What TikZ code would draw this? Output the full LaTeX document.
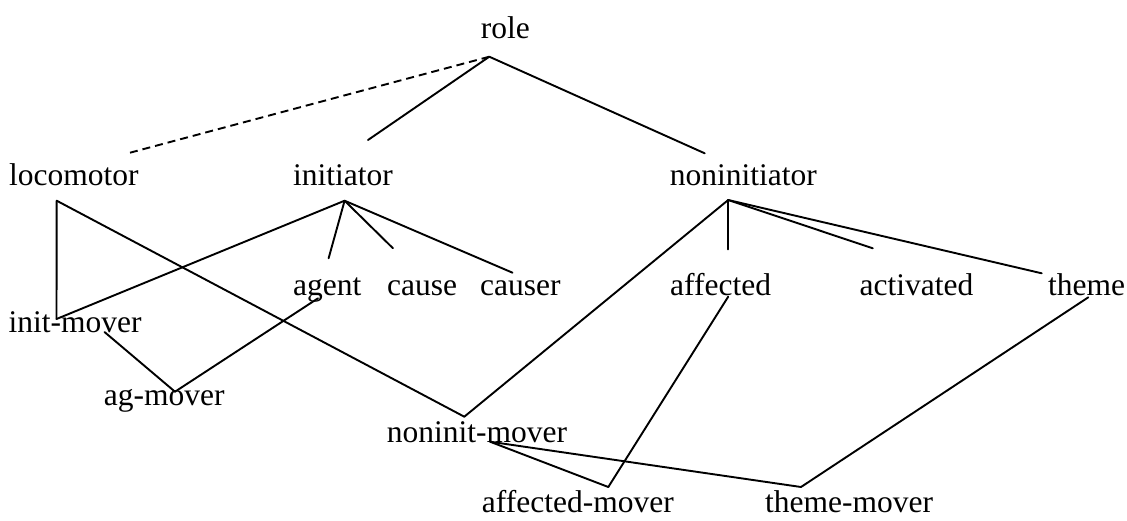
\documentclass[tikz,border=0pt]{standalone}
\usepackage{fontspec}
\setmainfont{Liberation Serif}
\begin{document}
\begin{tikzpicture}[x=1pt,y=-1pt,
  lbl/.style={anchor=base west,inner sep=0pt,font=\fontsize{31.5}{36}\selectfont},
  edge/.style={line width=1.9pt,line cap=round,line join=round},
  dedge/.style={edge,line cap=butt,dash pattern=on 8pt off 5pt}]
\useasboundingbox (0,0) rectangle (1127,520);
% labels
\node[lbl] (role) at (480.7,38.3) {role};
\node[lbl] (loco) at (9,185) {locomotor};
\node[lbl] (ini) at (293,185) {initiator};
\node[lbl] (non) at (669.6,185) {noninitiator};
\node[lbl] (agent) at (293,295) {agent};
\node[lbl] (cause) at (387,295) {cause};
\node[lbl] (causer) at (480,295) {causer};
\node[lbl] (aff) at (670,295) {affected};
\node[lbl] (act) at (859.5,295) {activated};
\node[lbl] (theme) at (1048,295) {theme};
\node[lbl] (im) at (8.5,332.7) {init-mover};
\node[lbl] (agm) at (103.6,405) {ag-mover};
\node[lbl] (nm) at (386.7,442.7) {noninit-mover};
\node[lbl] (am) at (481.7,512) {affected-mover};
\node[lbl] (tm) at (765,512) {theme-mover};
% attach points
\coordinate (roleB) at (489.3,56.7);
\coordinate (dashEnd) at (130,152.7);
\coordinate (iniT) at (368,140);
\coordinate (nonT) at (704.7,153.3);
\coordinate (locoB) at (56.7,200.7);
\coordinate (imT) at (56.5,319);
\coordinate (iniB) at (344.6,200.7);
\coordinate (agT) at (328.6,258.3);
\coordinate (caT) at (393,248.3);
\coordinate (crT) at (512.5,272.7);
\coordinate (nonB) at (728.2,200);
\coordinate (afT) at (728.2,249.3);
\coordinate (acT) at (872.8,248.3);
\coordinate (thT) at (1041.7,273.3);
\coordinate (imB) at (104.5,332);
\coordinate (agmT) at (175,391.7);
\coordinate (agB) at (318,298.3);
\coordinate (nmT) at (464.3,416.7);
\coordinate (nmB) at (490,441.7);
\coordinate (afB) at (728.2,296.7);
\coordinate (amT) at (608.3,487);
\coordinate (thB) at (1088.3,297.3);
\coordinate (tmT) at (801,487);
% connectors
\draw[dedge] (roleB) -- (dashEnd);
\draw[edge] (roleB) -- (iniT);
\draw[edge] (roleB) -- (nonT);
\draw[edge] (locoB) -- (imT);
\draw[edge] (locoB) -- (nmT);
\draw[edge] (iniB) -- (imT);
\draw[edge] (iniB) -- (agT);
\draw[edge] (iniB) -- (caT);
\draw[edge] (iniB) -- (crT);
\draw[edge] (nonB) -- (nmT);
\draw[edge] (nonB) -- (afT);
\draw[edge] (nonB) -- (acT);
\draw[edge] (nonB) -- (thT);
\draw[edge] (imB) -- (agmT);
\draw[edge] (agB) -- (agmT);
\draw[edge] (afB) -- (amT);
\draw[edge] (thB) -- (tmT);
\draw[edge] (nmB) -- (amT);
\draw[edge] (nmB) -- (tmT);
\end{tikzpicture}
\end{document}
